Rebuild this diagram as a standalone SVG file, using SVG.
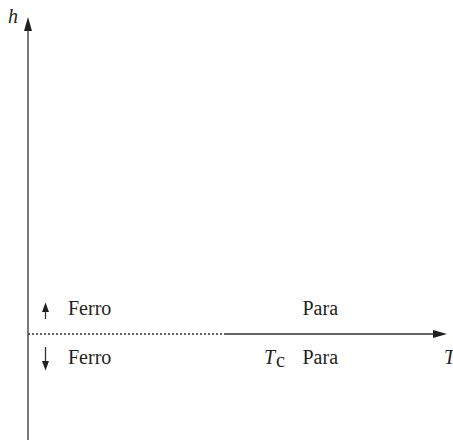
<svg xmlns="http://www.w3.org/2000/svg" width="453" height="440" viewBox="0 0 453 440">
<style>
.ax{stroke:#333;stroke-width:1.3;fill:none}
.t{font-family:"Liberation Serif",serif;font-size:20px;fill:#231f20}
.i{font-style:italic}
.hd{fill:#231f20;stroke:none}
</style>
<rect width="453" height="440" fill="#fff"/>
<g id="connectors">
<line class="ax" x1="28" y1="440" x2="28" y2="28"/>
<path class="hd" d="M28,17 L32,31 L24,31 Z"/>
<line class="ax" x1="28" y1="334" x2="225" y2="334" stroke-dasharray="2,2"/>
<line class="ax" x1="225" y1="334" x2="435" y2="334"/>
<path class="hd" d="M447,334 L433,330 L433,338 Z"/>
<line class="ax" x1="45.5" y1="319" x2="45.5" y2="309"/>
<path class="hd" d="M45.5,302.5 L49,312 L42,312 Z"/>
<line class="ax" x1="45.5" y1="347" x2="45.5" y2="362"/>
<path class="hd" d="M45.5,370.5 L49,361 L42,361 Z"/>
</g>
<g id="labels">
<text class="t i" x="8" y="23">h</text>
<text class="t" x="68" y="315">Ferro</text>
<text class="t" x="68" y="364">Ferro</text>
<text class="t" x="302.5" y="315">Para</text>
<text class="t" x="302.5" y="364">Para</text>
<text class="t i" x="264" y="364">T</text>
<text class="t" x="276" y="367" font-size="15">c</text>
<text class="t i" x="444" y="364">T</text>
</g>
</svg>
